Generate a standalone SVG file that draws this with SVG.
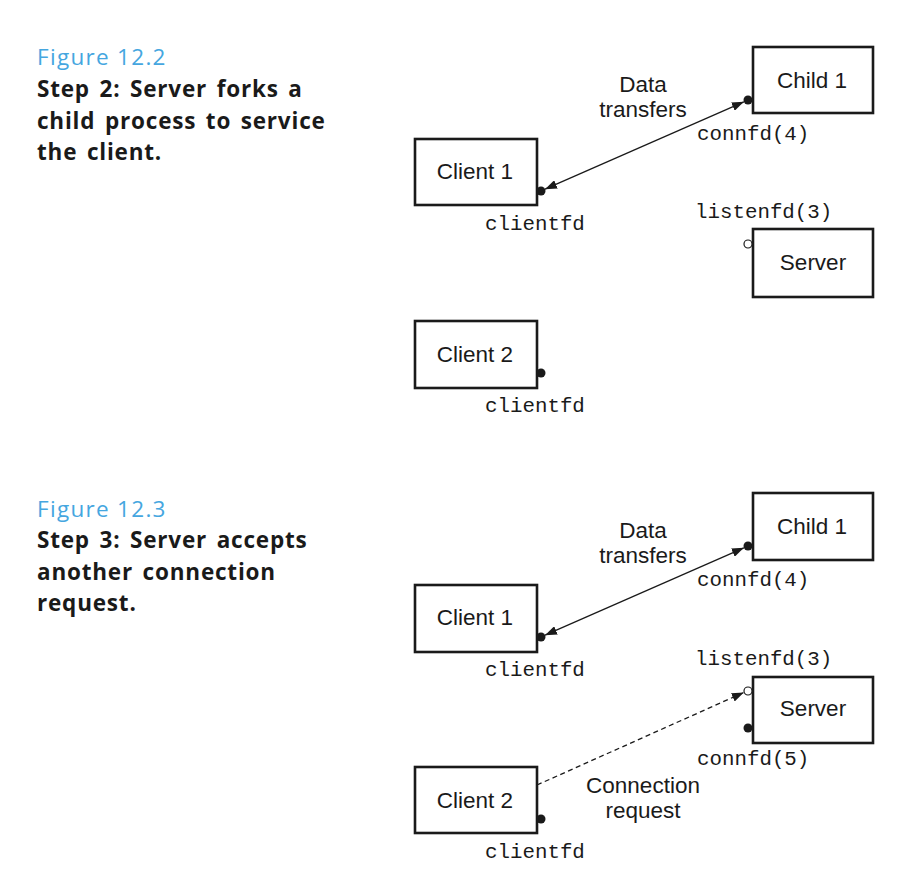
<svg xmlns="http://www.w3.org/2000/svg" width="914" height="884" viewBox="0 0 914 884">
<defs>
<style>
.box{fill:#fff;stroke:#1a1a1a;stroke-width:2.6}
.lbl{font-family:"Liberation Sans",Arial,sans-serif;font-size:22.5px;fill:#1a1a1a;text-anchor:middle}
.code{font-family:"Liberation Mono","Courier New",monospace;font-size:20.8px;fill:#1a1a1a}
.fig{font-family:"Open Sans","Noto Sans",sans-serif;font-size:22.5px;fill:#45a6df;letter-spacing:1.3px}
.cap{font-family:"Open Sans","Noto Sans",sans-serif;font-size:22.5px;font-weight:bold;fill:#1a1a1a;letter-spacing:0.8px;word-spacing:3px}
.dot{fill:#1a1a1a}
.odot{fill:#fff;stroke:#1a1a1a;stroke-width:1.2}
.ln{stroke:#1a1a1a;stroke-width:1.3;fill:none}
</style>
<marker id="ah" markerUnits="userSpaceOnUse" markerWidth="12" markerHeight="9" refX="12" refY="4.5" orient="auto-start-reverse">
<path d="M0,0 L12,4.5 L0,9 z" fill="#1a1a1a"/>
</marker>
</defs>
<rect width="914" height="884" fill="#fff"/>

<!-- Figure 12.2 caption -->
<g id="caption1">
<text class="fig" x="37" y="65">Figure 12.2</text>
<text class="cap" x="37" y="97">Step 2: Server forks a</text>
<text class="cap" x="37" y="129">child process to service</text>
<text class="cap" x="37" y="160">the client.</text>
</g>

<!-- Figure 12.3 caption -->
<g id="caption2">
<text class="fig" x="37" y="517">Figure 12.3</text>
<text class="cap" x="37" y="548">Step 3: Server accepts</text>
<text class="cap" x="37" y="580">another connection</text>
<text class="cap" x="37" y="611">request.</text>
</g>

<!-- Top figure nodes -->
<g id="f2-child1">
<rect class="box" x="753" y="47" width="120" height="66"/>
<text class="lbl" x="812" y="88">Child 1</text>
<circle class="dot" cx="748" cy="100" r="4.5"/>
<text class="code" x="697" y="140">connfd(4)</text>
</g>
<g id="f2-client1">
<rect class="box" x="415" y="139" width="122" height="66"/>
<text class="lbl" x="475" y="179">Client 1</text>
<circle class="dot" cx="541" cy="191" r="4.5"/>
<text class="code" x="485" y="230">clientfd</text>
</g>
<g id="f2-server">
<text class="code" x="695" y="218">listenfd(3)</text>
<rect class="box" x="753" y="229" width="120" height="68"/>
<text class="lbl" x="813" y="270">Server</text>
<circle class="odot" cx="748" cy="244" r="4"/>
</g>
<g id="f2-client2">
<rect class="box" x="415" y="321" width="122" height="67"/>
<text class="lbl" x="475" y="362">Client 2</text>
<circle class="dot" cx="541" cy="373" r="4.5"/>
<text class="code" x="485" y="412">clientfd</text>
</g>

<!-- Bottom figure nodes -->
<g id="f3-child1">
<rect class="box" x="753" y="493" width="120" height="67"/>
<text class="lbl" x="812" y="534">Child 1</text>
<circle class="dot" cx="748" cy="546" r="4.5"/>
<text class="code" x="697" y="586">connfd(4)</text>
</g>
<g id="f3-client1">
<rect class="box" x="415" y="585" width="122" height="67"/>
<text class="lbl" x="475" y="625">Client 1</text>
<circle class="dot" cx="541" cy="637" r="4.5"/>
<text class="code" x="485" y="676">clientfd</text>
</g>
<g id="f3-server">
<text class="code" x="695" y="665">listenfd(3)</text>
<rect class="box" x="753" y="677" width="120" height="66"/>
<text class="lbl" x="813" y="716">Server</text>
<circle class="odot" cx="748" cy="691" r="4"/>
<circle class="dot" cx="748" cy="728" r="4.5"/>
<text class="code" x="697" y="765">connfd(5)</text>
</g>
<g id="f3-client2">
<rect class="box" x="415" y="767" width="122" height="66"/>
<text class="lbl" x="475" y="808">Client 2</text>
<circle class="dot" cx="541" cy="819" r="4.5"/>
<text class="code" x="485" y="858">clientfd</text>
</g>

<!-- Connectors -->
<g id="connectors">
<line class="ln" x1="545" y1="189.2" x2="743.9" y2="101.8" marker-start="url(#ah)" marker-end="url(#ah)"/>
<text class="lbl" x="643" y="92">Data</text>
<text class="lbl" x="643" y="117">transfers</text>
<line class="ln" x1="545" y1="635.2" x2="743.9" y2="547.8" marker-start="url(#ah)" marker-end="url(#ah)"/>
<text class="lbl" x="643" y="538">Data</text>
<text class="lbl" x="643" y="563">transfers</text>
<line class="ln" x1="537" y1="785" x2="743.8" y2="692.5" stroke-dasharray="5,3.5" marker-end="url(#ah)"/>
<text class="lbl" x="643" y="793">Connection</text>
<text class="lbl" x="643" y="818">request</text>
</g>
</svg>
